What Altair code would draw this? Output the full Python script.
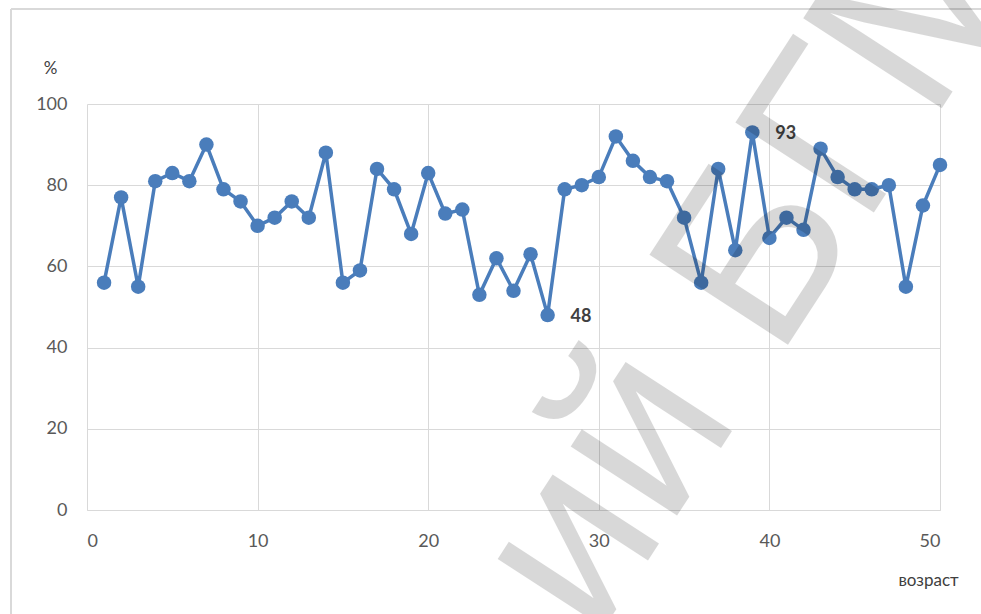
import altair as alt
import pandas as pd

ages = [1, 2, 3, 4, 5, 6, 7, 8, 9, 10,
        11, 12, 13, 14, 15, 16, 17, 18, 19, 20,
        21, 22, 23, 24, 25, 26, 27, 28, 29, 30,
        31, 32, 33, 34, 35, 36, 37, 38, 39, 40,
        41, 42, 43, 44, 45, 46, 47, 48, 49, 50]
values = [56, 77, 55, 81, 83, 81, 90, 79, 76, 70,
          72, 76, 72, 88, 56, 59, 84, 79, 68, 83,
          73, 74, 53, 62, 54, 63, 48, 79, 80, 82,
          92, 86, 82, 81, 72, 56, 84, 64, 93, 67,
          72, 69, 89, 82, 79, 79, 80, 55, 75, 85]
labelled_ages = [27, 39]
watermark_text = ["ий БГМУ"]

df = pd.DataFrame({"age": ages, "pct": values})
df["lab"] = [str(v) if a in labelled_ages else "" for a, v in zip(ages, values)]

BLUE = "#4a7dbb"
FONT = "Lato"

x = alt.X("age:Q", scale=alt.Scale(domain=[0, 50], nice=False),
          axis=alt.Axis(values=[0, 10, 20, 30, 40, 50], title="возраст",
                        titleAngle=0, titleX=841, titleY=70, titleAlign="center",
                        titleBaseline="middle", titleFontWeight="normal",
                        titleFontSize=17, titleColor="#404040",
                        labelFontSize=18, labelColor="#595959", labelPadding=22,
                        ticks=False, domainColor="#d9d9d9", grid=True,
                        gridColor="#d9d9d9", labelFont=FONT, titleFont=FONT))
y = alt.Y("pct:Q", scale=alt.Scale(domain=[0, 100], nice=False),
          axis=alt.Axis(values=[0, 20, 40, 60, 80, 100], title="%",
                        titleAngle=0, titleX=-37, titleY=-36, titleAlign="center",
                        titleBaseline="middle", titleFontWeight="normal",
                        titleFontSize=17, titleColor="#404040",
                        labelFontSize=18, labelColor="#595959", labelPadding=20,
                        ticks=False, domain=False, grid=True,
                        gridColor="#d9d9d9", labelFont=FONT, titleFont=FONT))

base = alt.Chart(df)
line = base.mark_line(color=BLUE, strokeWidth=3.5).encode(x=x, y=y)
pts = base.mark_circle(color=BLUE, size=210, opacity=1).encode(x=x, y=y)
labels = base.transform_filter(alt.datum.lab != "").mark_text(
    align="left", baseline="middle", dx=23, dy=2, fontSize=18,
    fontWeight="bold", color="#404040", font=FONT
).encode(x=x, y=y, text="lab:N")

wm = alt.Chart(pd.DataFrame({"t": watermark_text})).mark_text(
    align="left", baseline="alphabetic", angle=303, fontSize=240,
    font="Liberation Sans", color="black", opacity=0.15
).encode(x=alt.value(508), y=alt.value(538), text="t:N")

border_top = alt.Chart(pd.DataFrame({"t": watermark_text})).mark_rule(
    color="#d9d9d9", strokeWidth=2).encode(
    x=alt.value(-76), x2=alt.value(900), y=alt.value(-95))
border_left = alt.Chart(pd.DataFrame({"t": watermark_text})).mark_rule(
    color="#d9d9d9", strokeWidth=2).encode(
    x=alt.value(-76), y=alt.value(-95), y2=alt.value(520))

chart = alt.layer(border_top, border_left, line, pts, labels, wm).properties(
    width=853, height=406,
    padding={"left": 87, "top": 104, "right": 41, "bottom": 104},
    autosize=alt.AutoSizeParams(type="none"),
    background="white",
).configure_view(stroke=None)

chart.save("out.html", embed_options={"renderer": "svg", "actions": False})
